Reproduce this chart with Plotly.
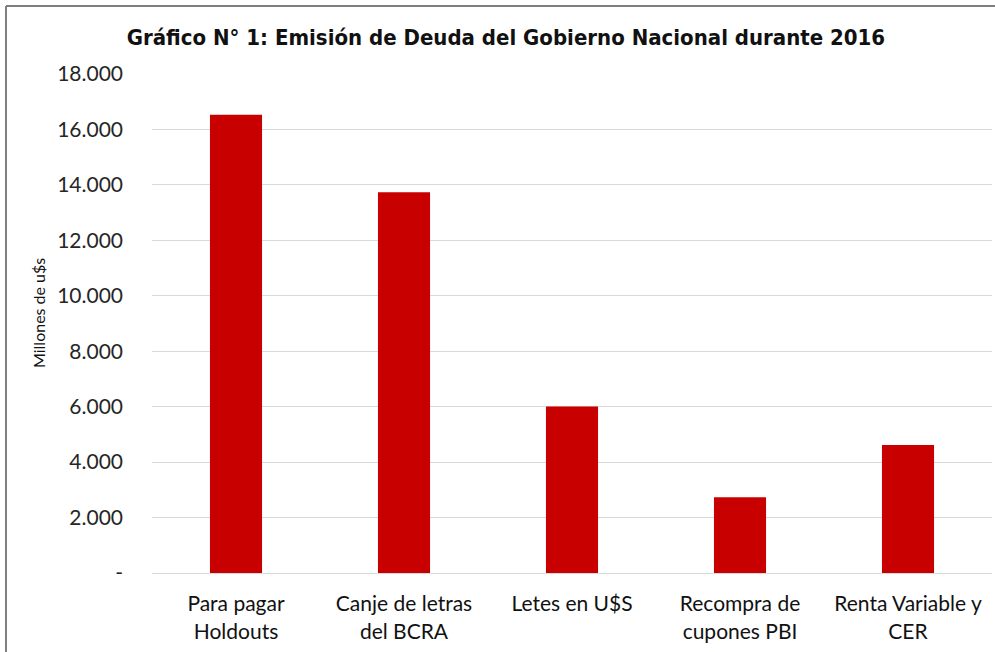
import plotly.graph_objects as go

categories = ["Para pagar<br>Holdouts", "Canje de letras<br>del BCRA", "Letes en U$S",
              "Recompra de<br>cupones PBI", "Renta Variable y<br>CER"]
values = [16530, 13730, 6010, 2730, 4620]
tick_vals = [0, 2000, 4000, 6000, 8000, 10000, 12000, 14000, 16000, 18000]
tick_text = ["-", "2.000", "4.000", "6.000", "8.000", "10.000", "12.000", "14.000", "16.000", "18.000"]

W, H = 995, 652
ml, mr, mt, mb = 152, 3, 74, 79
pw, ph = W - ml - mr, H - mt - mb

fig = go.Figure(go.Bar(x=categories, y=values, marker_color="#C80000",
                       marker_line_width=0, width=0.31))

fig.update_layout(
    width=W, height=H,
    margin=dict(l=ml, r=mr, t=mt, b=mb),
    plot_bgcolor="white", paper_bgcolor="white",
    title=dict(text="<b>Gráfico N° 1: Emisión de Deuda del Gobierno Nacional durante 2016</b>",
               x=0.5085, xanchor="center", y=1 - 37 / H, yanchor="middle",
               font=dict(family="DejaVu Sans Condensed, Liberation Sans Narrow, Arial Narrow", size=22, color="#111111")),
    font=dict(family="Lato, Carlito, Calibri, sans-serif", size=21, color="#262626"),
    showlegend=False,
    bargap=0.69,
)
fig.update_yaxes(range=[0, 18000], tickvals=tick_vals, ticktext=tick_text,
                 showgrid=True, gridcolor="#D9D9D9", gridwidth=1,
                 zeroline=False, showline=False, ticks="",
                 ticklabelstandoff=28,
                 tickfont=dict(size=21, color="#262626"))
fig.update_xaxes(showline=True, linecolor="#D9D9D9", linewidth=1, ticks="",
                 tickfont=dict(size=21, color="#111111"), ticklabelstandoff=12)

fig.add_annotation(text="Millones de u$s", xref="paper", yref="paper",
                   x=(38 - ml) / pw, y=1 - (313 - mt) / ph, xanchor="center", yanchor="middle",
                   textangle=-90, showarrow=False, font=dict(size=16, color="#111111"))

# outer frame lines (top and left), in paper coordinates
x0 = (6 - ml) / pw
y_top = 1 + (mt - 6) / ph
y_bot = -mb / ph
x_right = 1 + mr / pw
fig.add_shape(type="line", xref="paper", yref="paper", x0=x0, x1=x_right, y0=y_top, y1=y_top,
              line=dict(color="#7F7F7F", width=2))
fig.add_shape(type="line", xref="paper", yref="paper", x0=x0, x1=x0, y0=y_bot, y1=y_top,
              line=dict(color="#7F7F7F", width=2))

fig.write_html("out.html", config={"displayModeBar": False},
               post_script="document.body.style.margin='0';")
